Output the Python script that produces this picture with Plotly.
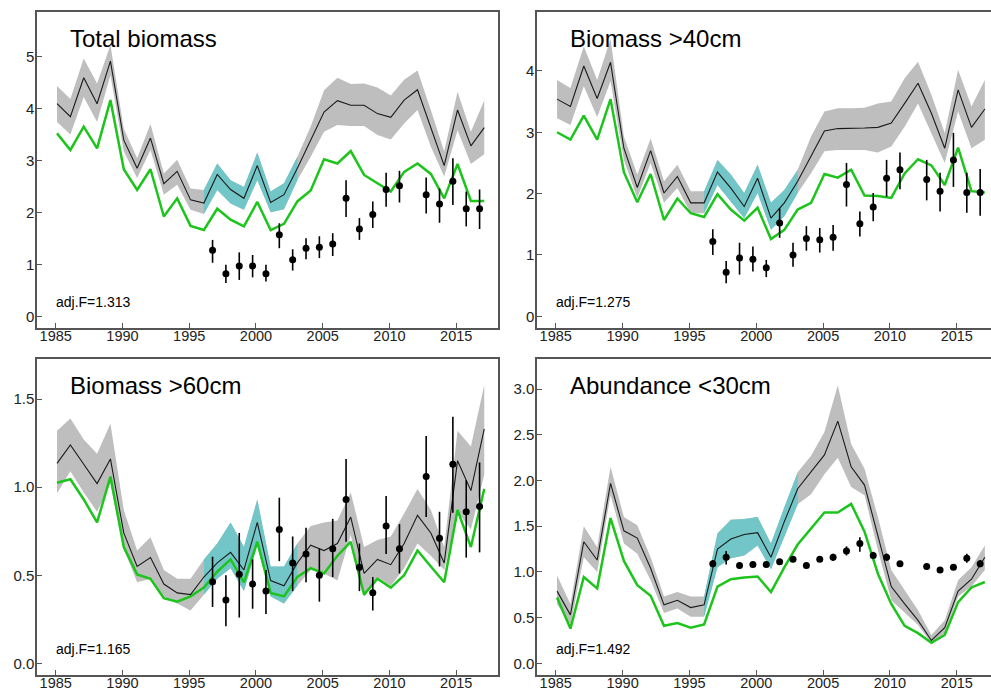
import plotly.graph_objects as go

# ---------------- data ----------------
years = list(range(1985, 2018))
obs_years = [y for y in range(1997, 2018) if y != 2012]
cyan_years = list(range(1996, 2004))

titles = ["Total biomass", "Biomass >40cm", "Biomass >60cm", "Abundance <30cm"]
adj_labels = ["adj.F=1.313", "adj.F=1.275", "adj.F=1.165", "adj.F=1.492"]

tl_mean = [4.09, 3.84, 4.59, 4.09, 4.91, 3.39, 2.85, 3.43, 2.55, 2.79, 2.24,
           2.18, 2.73, 2.44, 2.27, 2.90,
           2.19, 2.34, 2.85, 3.39, 3.93, 4.15, 4.06, 4.06, 3.90, 3.83, 4.16, 4.36, 3.65, 2.90, 3.97, 3.28, 3.63]
tl_hi = [4.43, 4.18, 4.96, 4.48, 5.22, 3.61, 3.04, 3.70, 2.75, 3.01, 2.46,
         2.43, 2.94, 2.62, 2.49, 3.15,
         2.40, 2.56, 3.07, 3.65, 4.35, 4.59, 4.47, 4.48, 4.40, 4.25, 4.55, 4.73, 3.97, 3.17, 4.32, 3.55, 4.15]
tl_lo = [3.74, 3.50, 4.22, 3.74, 4.64, 3.17, 2.66, 3.20, 2.34, 2.53, 2.05,
         1.97, 2.43, 2.17, 2.05, 2.62,
         2.00, 2.06, 2.62, 3.07, 3.55, 3.68, 3.66, 3.66, 3.49, 3.40, 3.71, 3.97, 3.26, 2.69, 3.58, 2.93, 3.12]
tl_green = [3.52, 3.20, 3.65, 3.23, 4.16, 2.83, 2.43, 2.83, 1.92, 2.27, 1.74,
            1.66, 2.07, 1.86, 1.73, 2.20,
            1.66, 1.78, 2.21, 2.42, 3.02, 2.94, 3.18, 2.72, 2.56, 2.40, 2.78, 2.94, 2.74, 2.27, 2.93, 2.22, 2.22]
tl_obs = [1.27, 0.82, 0.97, 0.97, 0.82, 1.57, 1.09, 1.31, 1.33, 1.39, 2.27, 1.68, 1.96, 2.44, 2.51, 2.34, 2.16, 2.60, 2.07, 2.07]
tl_obs_lo = [1.03, 0.64, 0.70, 0.75, 0.67, 1.31, 0.88, 1.10, 1.12, 1.16, 1.91, 1.47, 1.70, 2.11, 2.19, 1.98, 1.80, 2.14, 1.73, 1.68]
tl_obs_hi = [1.47, 0.99, 1.23, 1.18, 0.99, 1.79, 1.29, 1.50, 1.54, 1.60, 2.62, 1.89, 2.21, 2.76, 2.80, 2.67, 2.46, 3.04, 2.40, 2.44]

tr_mean = [3.54, 3.42, 4.08, 3.55, 4.14, 2.74, 2.10, 2.70, 2.01, 2.28, 1.85,
           1.85, 2.35, 2.09, 1.79, 2.25,
           1.60, 1.85, 2.20, 2.61, 3.02, 3.06, 3.06, 3.07, 3.08, 3.15, 3.47, 3.80, 3.31, 2.74, 3.69, 3.08, 3.38]
tr_hi = [3.85, 3.72, 4.40, 3.85, 4.52, 2.93, 2.31, 2.90, 2.20, 2.47, 2.04,
         2.04, 2.55, 2.31, 2.01, 2.47,
         1.85, 2.06, 2.39, 2.93, 3.34, 3.39, 3.39, 3.40, 3.47, 3.50, 3.88, 4.15, 3.61, 2.99, 4.02, 3.42, 3.85]
tr_lo = [3.23, 3.12, 3.75, 3.25, 3.83, 2.55, 1.93, 2.50, 1.85, 2.09, 1.68,
         1.68, 2.14, 1.87, 1.60, 2.01,
         1.41, 1.63, 2.01, 2.33, 2.69, 2.71, 2.71, 2.71, 2.67, 2.77, 3.09, 3.47, 2.99, 2.50, 3.34, 2.74, 2.88]
tr_green = [3.00, 2.88, 3.27, 2.88, 3.54, 2.35, 1.86, 2.32, 1.57, 1.92, 1.68,
            1.62, 1.99, 1.74, 1.56, 1.77,
            1.26, 1.41, 1.74, 1.85, 2.32, 2.26, 2.39, 1.97, 1.96, 1.93, 2.33, 2.56, 2.46, 2.14, 2.75, 2.04, 2.02]
tr_obs = [1.22, 0.72, 0.95, 0.93, 0.79, 1.52, 1.00, 1.27, 1.25, 1.29, 2.15, 1.51, 1.78, 2.25, 2.39, 2.23, 2.04, 2.55, 2.02, 2.02]
tr_obs_lo = [1.00, 0.54, 0.68, 0.73, 0.64, 1.28, 0.81, 1.07, 1.04, 1.07, 1.79, 1.30, 1.55, 1.95, 2.07, 1.89, 1.71, 2.11, 1.69, 1.64]
tr_obs_hi = [1.42, 0.90, 1.20, 1.14, 0.92, 1.76, 1.20, 1.47, 1.44, 1.49, 2.50, 1.71, 2.01, 2.55, 2.67, 2.55, 2.34, 2.99, 2.34, 2.40]

bl_mean = [1.135, 1.24, 1.13, 1.02, 1.16, 0.74, 0.55, 0.60, 0.45, 0.40, 0.39,
           0.49, 0.57, 0.63, 0.53, 0.80,
           0.47, 0.44, 0.57, 0.67, 0.64, 0.68, 0.83, 0.51, 0.59, 0.56, 0.68, 0.84, 0.74, 0.57, 1.15, 0.98, 1.33]
bl_hi = [1.32, 1.39, 1.27, 1.19, 1.36, 0.87, 0.64, 0.715, 0.53, 0.48, 0.48,
         0.59, 0.68, 0.80, 0.66, 0.93,
         0.55, 0.55, 0.68, 0.78, 0.80, 0.81, 0.97, 0.66, 0.70, 0.72, 0.85, 0.99, 0.87, 0.66, 1.32, 1.23, 1.58]
bl_lo = [0.965, 1.09, 0.97, 0.86, 1.02, 0.65, 0.46, 0.48, 0.38, 0.34, 0.30,
         0.39, 0.48, 0.54, 0.41, 0.67,
         0.38, 0.34, 0.44, 0.53, 0.51, 0.47, 0.73, 0.38, 0.49, 0.44, 0.54, 0.68, 0.61, 0.53, 0.86, 0.76, 1.07]
bl_green = [1.025, 1.045, 0.93, 0.80, 1.06, 0.66, 0.505, 0.48, 0.37, 0.35, 0.38,
            0.43, 0.52, 0.59, 0.46, 0.69,
            0.40, 0.38, 0.49, 0.54, 0.51, 0.61, 0.69, 0.39, 0.48, 0.43, 0.50, 0.64, 0.55, 0.46, 0.87, 0.66, 0.99]
bl_obs = [0.463, 0.36, 0.505, 0.45, 0.41, 0.76, 0.57, 0.62, 0.50, 0.65, 0.93, 0.545, 0.40, 0.78, 0.65, 1.06, 0.71, 1.13, 0.86, 0.89]
bl_obs_lo = [0.32, 0.21, 0.26, 0.31, 0.28, 0.58, 0.41, 0.46, 0.35, 0.49, 0.69, 0.41, 0.30, 0.62, 0.51, 0.83, 0.55, 0.855, 0.60, 0.63]
bl_obs_hi = [0.605, 0.50, 0.74, 0.59, 0.53, 0.94, 0.72, 0.77, 0.65, 0.82, 1.16, 0.68, 0.49, 0.95, 0.79, 1.29, 0.86, 1.40, 1.04, 1.14]

br_mean = [0.79, 0.53, 1.33, 1.13, 1.97, 1.45, 1.37, 1.04, 0.64, 0.69, 0.61,
           0.64, 1.25, 1.36, 1.41, 1.43,
           1.16, 1.55, 1.91, 2.09, 2.28, 2.65, 2.15, 1.95, 1.38, 0.84, 0.65, 0.47, 0.25, 0.39, 0.79, 0.92, 1.16]
br_hi = [0.96, 0.65, 1.50, 1.27, 2.15, 1.60, 1.51, 1.16, 0.73, 0.78, 0.73,
         0.73, 1.42, 1.57, 1.58, 1.60,
         1.31, 1.71, 2.09, 2.27, 2.53, 3.04, 2.40, 2.13, 1.60, 1.02, 0.80, 0.58, 0.31, 0.47, 0.91, 1.05, 1.29]
br_lo = [0.65, 0.42, 1.16, 1.00, 1.84, 1.31, 1.20, 0.91, 0.55, 0.60, 0.51,
         0.51, 1.05, 1.15, 1.18, 1.29,
         1.03, 1.38, 1.74, 1.85, 2.07, 2.25, 1.93, 1.84, 1.24, 0.69, 0.56, 0.42, 0.22, 0.33, 0.73, 0.84, 1.02]
br_green = [0.72, 0.38, 0.945, 0.82, 1.59, 1.12, 0.855, 0.74, 0.41, 0.44, 0.39,
            0.425, 0.84, 0.92, 0.94, 0.95,
            0.78, 1.05, 1.30, 1.48, 1.65, 1.65, 1.745, 1.44, 0.98, 0.65, 0.41, 0.33, 0.225, 0.31, 0.67, 0.83, 0.89]
br_obs = [1.09, 1.16, 1.07, 1.08, 1.08, 1.11, 1.14, 1.07, 1.14, 1.16, 1.23, 1.31, 1.18, 1.16, 1.09, 1.06, 1.02, 1.05, 1.15, 1.09]
br_obs_lo = [1.05, 1.08, 1.04, 1.05, 1.05, 1.08, 1.11, 1.04, 1.11, 1.12, 1.18, 1.22, 1.14, 1.12, 1.06, 1.03, 0.99, 1.02, 1.10, 1.05]
br_obs_hi = [1.13, 1.23, 1.10, 1.11, 1.11, 1.14, 1.17, 1.10, 1.17, 1.20, 1.28, 1.38, 1.22, 1.20, 1.12, 1.09, 1.05, 1.08, 1.20, 1.13]

x_ticks = [1985, 1990, 1995, 2000, 2005, 2010, 2015]
y_ticks = [[0, 1, 2, 3, 4, 5], [0, 1, 2, 3, 4], [0.0, 0.5, 1.0, 1.5], [0.0, 0.5, 1.0, 1.5, 2.0, 2.5, 3.0]]
y_ticktext = [["0", "1", "2", "3", "4", "5"], ["0", "1", "2", "3", "4"],
              ["0.0", "0.5", "1.0", "1.5"], ["0.0", "0.5", "1.0", "1.5", "2.0", "2.5", "3.0"]]

# ---------------- style / layout ----------------
W, H = 991, 691
GREY = "#BEBEBE"
CYAN = "#72C6C8"
GREEN = "#1CC41C"
FRAME = "#555555"
FONT = "Liberation Sans, Arial, Helvetica, sans-serif"
MODEL_OFF = 0.1
OBS_OFF = -0.25

panels = [
    dict(mean=tl_mean, hi=tl_hi, lo=tl_lo, green=tl_green, obs=tl_obs, olo=tl_obs_lo, ohi=tl_obs_hi,
         frame=(37, 498, 12, 328), xr=[1983.6, 2018.13], yr=[-0.225, 5.855], right=False),
    dict(mean=tr_mean, hi=tr_hi, lo=tr_lo, green=tr_green, obs=tr_obs, olo=tr_obs_lo, ohi=tr_obs_hi,
         frame=(537, 991, 12, 328), xr=[1983.6, 2017.56], yr=[-0.19, 4.96], right=True),
    dict(mean=bl_mean, hi=bl_hi, lo=bl_lo, green=bl_green, obs=bl_obs, olo=bl_obs_lo, ohi=bl_obs_hi,
         frame=(37, 498, 359, 675), xr=[1983.6, 2018.13], yr=[-0.066, 1.727], right=False),
    dict(mean=br_mean, hi=br_hi, lo=br_lo, green=br_green, obs=br_obs, olo=br_obs_lo, ohi=br_obs_hi,
         frame=(537, 991, 359, 675), xr=[1983.6, 2017.56], yr=[-0.128, 3.33], right=True),
]

fig = go.Figure()
annotations = []
layout_axes = {}

for i, p in enumerate(panels):
    n = "" if i == 0 else str(i + 1)
    xa, ya = "x" + n, "y" + n
    xm = [y + MODEL_OFF for y in years]
    # grey band
    fig.add_trace(go.Scatter(x=xm + xm[::-1], y=p["hi"] + p["lo"][::-1], fill="toself",
                             fillcolor=GREY, line=dict(width=0), mode="lines",
                             xaxis=xa, yaxis=ya, hoverinfo="skip"))
    # cyan band (1996-2003)
    idx = [years.index(y) for y in cyan_years]
    xc = [xm[k] for k in idx]
    fig.add_trace(go.Scatter(x=xc + xc[::-1], y=[p["hi"][k] for k in idx] + [p["lo"][k] for k in idx][::-1],
                             fill="toself", fillcolor=CYAN, line=dict(width=0), mode="lines",
                             xaxis=xa, yaxis=ya, hoverinfo="skip"))
    # green line
    fig.add_trace(go.Scatter(x=xm, y=p["green"], mode="lines", line=dict(color=GREEN, width=2.5),
                             xaxis=xa, yaxis=ya))
    # black model line
    fig.add_trace(go.Scatter(x=xm, y=p["mean"], mode="lines", line=dict(color="#1a1a1a", width=1.1),
                             xaxis=xa, yaxis=ya))
    # observations
    xo = [y + OBS_OFF for y in obs_years]
    fig.add_trace(go.Scatter(
        x=xo, y=p["obs"], mode="markers", marker=dict(color="black", size=7),
        error_y=dict(type="data", symmetric=False,
                     array=[h - v for h, v in zip(p["ohi"], p["obs"])],
                     arrayminus=[v - l for v, l in zip(p["obs"], p["olo"])],
                     thickness=1.6, width=0, color="black"),
        xaxis=xa, yaxis=ya))

    L, R, T, B = p["frame"]
    xdom = [L / W, min(R / W, 1.0)]
    ydom = [1 - B / H, 1 - T / H]
    layout_axes["xaxis" + n] = dict(
        domain=xdom, range=p["xr"], anchor=ya, tickvals=x_ticks, ticktext=[str(t) for t in x_ticks],
        ticks="inside", ticklen=5, tickwidth=1.3, tickcolor=FRAME, showline=True, linecolor=FRAME,
        linewidth=1.5, mirror=True, showgrid=False, zeroline=False, automargin=False,
        ticklabelstandoff=-6,
        tickfont=dict(size=14.5, color="#222", family=FONT))
    layout_axes["yaxis" + n] = dict(
        domain=ydom, range=p["yr"], anchor=xa, tickvals=y_ticks[i], ticktext=y_ticktext[i],
        ticks="inside", ticklen=5, tickwidth=1.3, tickcolor=FRAME, showline=True, linecolor=FRAME,
        linewidth=1.5, mirror=not p["right"], showgrid=False, zeroline=False, automargin=False,
        ticklabelstandoff=-2,
        tickfont=dict(size=15, color="#222", family=FONT))

    annotations.append(dict(text=titles[i], xref="paper", yref="paper",
                            x=(L + 31) / W, y=1 - (T + 26) / H, xanchor="left", yanchor="middle",
                            showarrow=False, font=dict(size=24, color="black", family=FONT)))
    annotations.append(dict(text=adj_labels[i], xref="paper", yref="paper",
                            x=(L + 17) / W, y=1 - (B - 26) / H, xanchor="left", yanchor="middle",
                            showarrow=False, font=dict(size=14, color="black", family=FONT)))

fig.update_layout(
    width=W, height=H, margin=dict(l=0, r=0, t=0, b=0),
    paper_bgcolor="white", plot_bgcolor="white", showlegend=False,
    annotations=annotations, font=dict(family=FONT), **layout_axes)

fig.write_html("out.html", config={"displayModeBar": False},
               post_script="document.body.style.margin='0';document.body.style.overflow='hidden';"
                           "document.documentElement.style.overflow='hidden';")
